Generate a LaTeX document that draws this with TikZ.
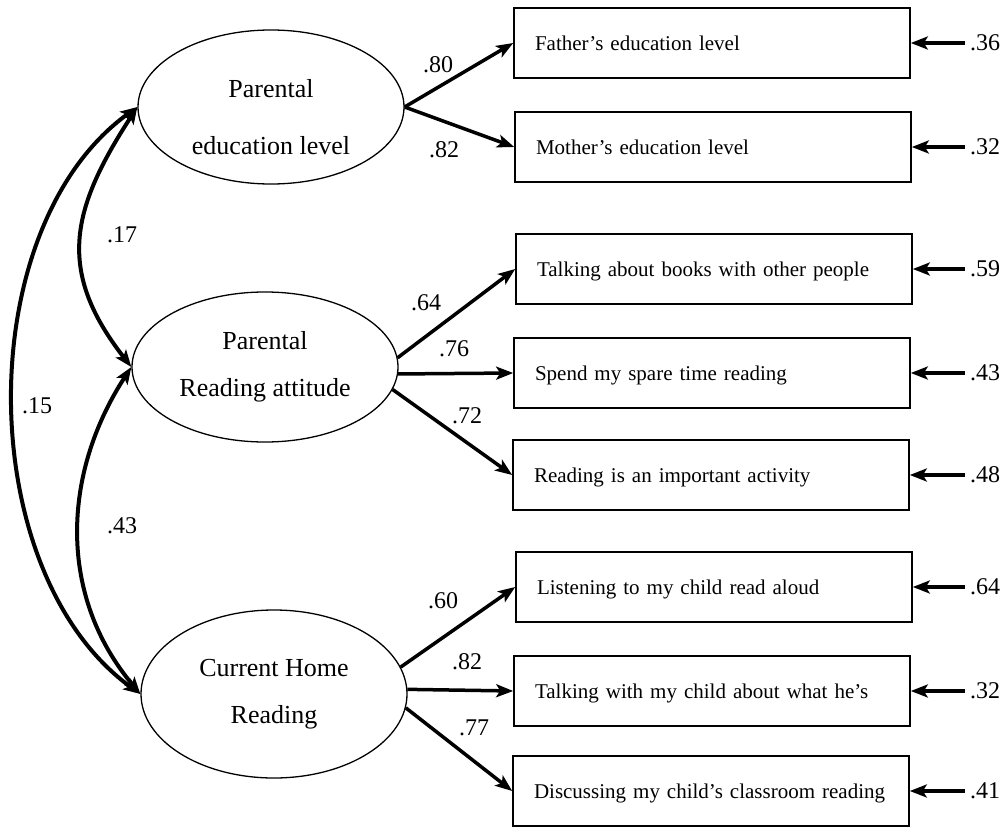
\documentclass[tikz,border=0pt]{standalone}
\usepackage{fontspec}
\setmainfont{Liberation Serif}
\usetikzlibrary{arrows.meta}
\usetikzlibrary{shapes.geometric}

\begin{document}
\begin{tikzpicture}[x=1pt, y=-1pt, >={Stealth[length=17pt,width=13pt,inset=4pt]}]
\tikzstyle{latent} = [draw=black, ellipse, line width=1.3pt, minimum width=266pt, align=center, inner sep=0pt, font=\fontsize{26}{47}\selectfont]
\tikzstyle{item} = [draw=black, rectangle, line width=1.6pt, minimum width=396pt, minimum height=70pt, text width=354pt, align=left, inner sep=0pt, text height=14pt, text depth=0pt, font=\fontsize{21}{24}\selectfont]
\tikzstyle{coef} = [inner sep=1pt, font=\fontsize{24}{26}\selectfont]
\tikzstyle{err} = [coef, inner sep=5pt, anchor=west]
\tikzstyle{load} = [->, line width=3.5pt]
\tikzstyle{corr} = [<->, line width=4pt]

\useasboundingbox (0,0) rectangle (1007,827);

% latent factors
\node[latent, minimum height=154pt] (edu) at (271,107) {\rule{0pt}{38pt}Parental\\[10pt]education level};
\node[latent, minimum height=150pt] (att) at (265,367) {Parental\\Reading attitude};
\node[latent, minimum height=168pt] (home) at (274,694) {Current Home\\Reading};

% observed items
\node[item] (fat) at (712,43) {Father's education level};
\node[item] (mot) at (713,147) {Mother's education level};
\node[item] (talk) at (714,269) {Talking about books with other people};
\node[item] (spare) at (712,373) {Spend my spare time reading};
\node[item] (imp) at (711,475) {Reading is an important activity};
\node[item] (listen) at (714,587) {Listening to my child read aloud};
\node[item] (what) at (712,691) {Talking with my child about what he's};
\node[item] (disc) at (711,791) {Discussing my child's classroom reading};

% error terms
\node[err] (r1) at (965,43) {.36};
\node[err] (r2) at (965,147) {.32};
\node[err] (r3) at (965,269) {.59};
\node[err] (r4) at (965,373) {.43};
\node[err] (r5) at (965,475) {.48};
\node[err] (r6) at (965,587) {.64};
\node[err] (r7) at (965,691) {.32};
\node[err] (r8) at (965,791) {.41};

% loadings
\node[coef] (l1) at (438,65) {.80};
\node[coef] (l2) at (444,150) {.82};
\node[coef] (l3) at (426,303) {.64};
\node[coef] (l4) at (454,349) {.76};
\node[coef] (l5) at (467,416) {.72};
\node[coef] (l6) at (443,601) {.60};
\node[coef] (l7) at (467,662) {.82};
\node[coef] (l8) at (474,728) {.77};

% correlations
\node[coef] (c1) at (122,235) {.17};
\node[coef] (c2) at (37,406) {.15};
\node[coef] (c3) at (122,526) {.43};

\path (edu.east) edge[load] (fat.west)
		edge[load] (mot.west)
	(att.4) edge[load] (talk.west)
	(att.-3) edge[load] (spare.west)
	(att.-10) edge[load] (imp.west)
	(home.12) edge[load] (listen.west)
	(home.2) edge[load] (what.west)
	(home.-6) edge[load] (disc.west)
	;

\path (r1) edge[load] (fat)
	(r2) edge[load] (mot)
	(r3) edge[load] (talk)
	(r4) edge[load] (spare)
	(r5) edge[load] (imp)
	(r6) edge[load] (listen)
	(r7) edge[load] (what)
	(r8) edge[load] (disc)
	;

\path (edu.west) edge[corr, out=237, in=128, looseness=1.2] (att.west)
		edge[corr, out=216, in=144, looseness=0.9] (home.west)
	(att.west) edge[corr, out=237, in=130] (home.west)
	;

\end{tikzpicture}
\end{document}
